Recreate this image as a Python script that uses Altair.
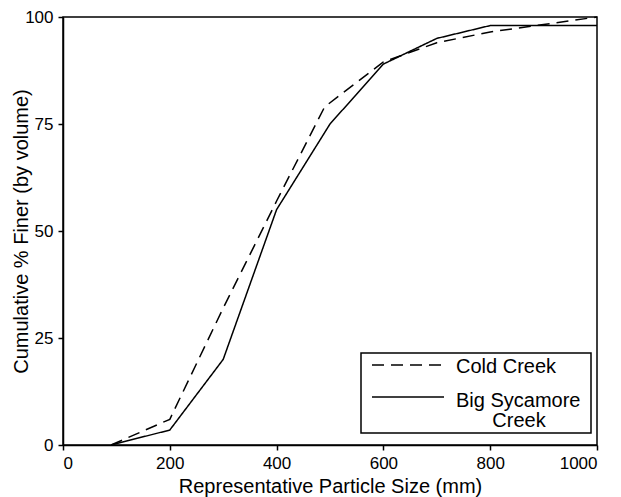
import altair as alt
import pandas as pd

# ---- data ----
series_names = ["Cold Creek", "Big Sycamore Creek"]
cold_size = [90, 200, 300, 400, 490, 600, 700, 800, 1000]
cold_pct = [0, 6, 32, 57, 79, 89.5, 94, 96.5, 100]
big_size = [90, 200, 300, 400, 500, 600, 700, 800, 1000]
big_pct = [0, 3.5, 20, 55, 75, 89, 95, 98, 98]
x_ticks = [0, 200, 400, 600, 800, 1000]
y_ticks = [0, 25, 50, 75, 100]

df = pd.concat([
    pd.DataFrame({"size": cold_size, "pct": cold_pct, "series": series_names[0]}),
    pd.DataFrame({"size": big_size, "pct": big_pct, "series": series_names[1]}),
])

FONT = "Liberation Sans"

lines = alt.Chart(df).mark_line(color="black", strokeWidth=1.5).encode(
    x=alt.X("size:Q", scale=alt.Scale(domain=[0, 1000], nice=False),
            axis=alt.Axis(values=x_ticks, format="d", title="Representative Particle Size (mm)",
                          titleBaseline="alphabetic", titleY=47)),
    y=alt.Y("pct:Q", scale=alt.Scale(domain=[0, 100], nice=False),
            axis=alt.Axis(values=y_ticks, format="d", title="Cumulative % Finer (by volume)",
                          titleBaseline="alphabetic", titleX=-36)),
    strokeDash=alt.StrokeDash("series:N",
                              scale=alt.Scale(domain=series_names, range=[[12, 7], [1, 0]]),
                              legend=None),
    detail="series:N",
)

one = alt.Data(values=[{"a": 1}])

legend_box = alt.Chart(one).mark_rect(fill="white", stroke="black", strokeWidth=1.5).encode(
    x=alt.value(298), x2=alt.value(528), y=alt.value(336), y2=alt.value(416))
legend_dash = alt.Chart(one).mark_rule(color="black", strokeWidth=1.5, strokeDash=[12, 7]).encode(
    x=alt.value(309), x2=alt.value(384), y=alt.value(348))
legend_solid = alt.Chart(one).mark_rule(color="black", strokeWidth=1.5).encode(
    x=alt.value(309), x2=alt.value(381), y=alt.value(380))
t1 = alt.Chart(one).mark_text(font=FONT, fontSize=20, align="left", baseline="alphabetic",
                              color="black", text="Cold Creek").encode(
    x=alt.value(393), y=alt.value(356))
t2 = alt.Chart(one).mark_text(font=FONT, fontSize=20, align="left", baseline="alphabetic",
                              color="black", text="Big Sycamore").encode(
    x=alt.value(393), y=alt.value(390))
t3 = alt.Chart(one).mark_text(font=FONT, fontSize=20, align="center", baseline="alphabetic",
                              color="black", text="Creek").encode(
    x=alt.value(456), y=alt.value(410))

chart = alt.layer(lines, legend_box, legend_dash, legend_solid, t1, t2, t3).properties(
    width=534, height=428,
    autosize=alt.AutoSizeParams(type="none"),
    padding={"left": 55, "top": 9, "right": 16, "bottom": 58},
).configure_view(stroke="black", strokeWidth=1.5).configure_axis(
    grid=False, domainColor="black", domainWidth=1.5, tickColor="black", tickWidth=1.5,
    tickSize=5, labelPadding=5, labelFont=FONT, labelFontSize=17, labelColor="black",
    titleFont=FONT, titleFontSize=20, titleColor="black", titleFontWeight="normal",
)

chart.save("out.html", embed_options={"renderer": "svg", "actions": False})
